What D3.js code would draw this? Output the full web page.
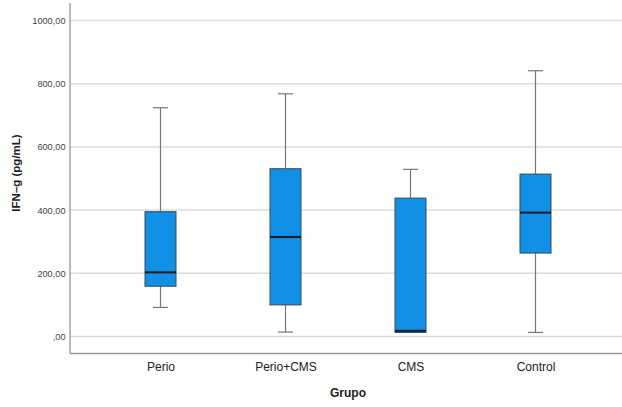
<!DOCTYPE html>
<html><head><meta charset="utf-8">
<script src="https://cdn.jsdelivr.net/npm/d3@7"></script>
<style>body{margin:0;background:#fff}svg{display:block}</style>
</head><body>
<svg id="c" width="622" height="407"></svg>
<script>
const categories = ["Perio", "Perio+CMS", "CMS", "Control"];
const whiskerLow = [92, 14, 13, 13];
const q1 = [159, 100, 13, 264];
const median = [203, 315, 18, 392];
const q3 = [395, 531, 438, 514];
const whiskerHigh = [724, 768, 529, 841];
const yTicks = [0, 200, 400, 600, 800, 1000];
const yTickLabels = [",00", "200,00", "400,00", "600,00", "800,00", "1000,00"];

(function () {
const data = categories.map((c, i) => ({c, lo: whiskerLow[i], q1: q1[i], med: median[i], q3: q3[i], hi: whiskerHigh[i]}));

const svg = d3.select("#c");
const pLeft = 70, pRight = 626, pTop = 3, pBottom = 353.5;
const font = "Liberation Sans, Arial, sans-serif";
const y = d3.scaleLinear().domain([0, 1000]).range([336.5, 20.5]);
const x = d3.scalePoint().domain(categories).range([pLeft, pRight]).padding(0.724);

// gridlines
svg.append("g").selectAll("line").data(yTicks).join("line")
  .attr("x1", pLeft).attr("x2", pRight)
  .attr("y1", d => y(d)).attr("y2", d => y(d))
  .attr("stroke", "#dcdcdc").attr("stroke-width", 1.5);

// y axis
const yAxis = d3.axisLeft(y).tickValues(yTicks).tickSize(0).tickPadding(4.5)
  .tickFormat((d, i) => yTickLabels[i]);
const gy = svg.append("g").attr("transform", `translate(${pLeft},0)`).call(yAxis);
gy.select(".domain").remove();
gy.selectAll("text").attr("font-family", font).attr("font-size", 9.2).attr("fill", "#444");
svg.append("line").attr("x1", pLeft).attr("x2", pLeft).attr("y1", pTop).attr("y2", pBottom)
  .attr("stroke", "#777").attr("stroke-width", 1);

// x axis
const xAxis = d3.axisBottom(x).tickSize(0).tickPadding(9);
const gx = svg.append("g").attr("transform", `translate(0,${pBottom})`).call(xAxis);
gx.select(".domain").remove();
gx.selectAll("text").attr("font-family", font).attr("font-size", 12).attr("fill", "#222");
svg.append("line").attr("x1", pLeft).attr("x2", pRight).attr("y1", pBottom).attr("y2", pBottom)
  .attr("stroke", "#999").attr("stroke-width", 1.5);

// boxes
const bw = 31, cw = 15;
const g = svg.append("g").selectAll("g").data(data).join("g")
  .attr("transform", d => `translate(${x(d.c)},0)`);
g.append("line").attr("x1", 0).attr("x2", 0).attr("y1", d => y(d.hi)).attr("y2", d => y(d.q3))
  .attr("stroke", "#777").attr("stroke-width", 1.2);
g.append("line").attr("x1", 0).attr("x2", 0).attr("y1", d => y(d.q1)).attr("y2", d => y(d.lo))
  .attr("stroke", "#777").attr("stroke-width", 1.2);
g.append("line").attr("x1", -cw/2).attr("x2", cw/2).attr("y1", d => y(d.hi)).attr("y2", d => y(d.hi))
  .attr("stroke", "#777").attr("stroke-width", 1.2);
g.append("line").attr("x1", -cw/2).attr("x2", cw/2).attr("y1", d => y(d.lo)).attr("y2", d => y(d.lo))
  .attr("stroke", "#777").attr("stroke-width", 1.2);
g.append("rect").attr("x", -bw/2).attr("width", bw)
  .attr("y", d => y(d.q3)).attr("height", d => y(d.q1) - y(d.q3))
  .attr("fill", "#1190e6").attr("stroke", "#3a4a55").attr("stroke-width", 1);
g.append("line").attr("x1", -bw/2).attr("x2", bw/2).attr("y1", d => y(d.med)).attr("y2", d => y(d.med))
  .attr("stroke", "#0a1a28").attr("stroke-width", 2);

// titles
svg.append("text").attr("x", 348).attr("y", 396.5).attr("text-anchor", "middle")
  .attr("font-family", font).attr("font-size", 12).attr("font-weight", "bold").attr("fill", "#222")
  .text("Grupo");
svg.append("text").attr("transform", "translate(19.5,173) rotate(-90)").attr("text-anchor", "middle")
  .attr("font-family", font).attr("font-size", 11.5).attr("font-weight", "bold").attr("fill", "#222")
  .text("IFN–g (pg/mL)");
})();
</script>
</body></html>
